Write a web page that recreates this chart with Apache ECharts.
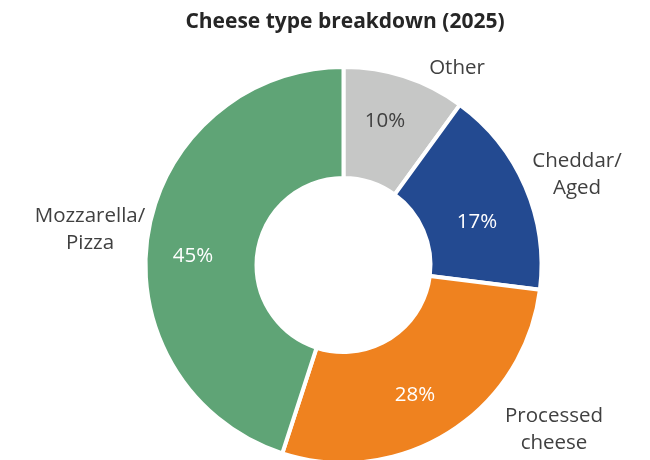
<!DOCTYPE html>
<html>
<head>
<meta charset="utf-8">
<script src="https://cdn.jsdelivr.net/npm/echarts@6/dist/echarts.min.js"></script>
<style>html,body{margin:0;padding:0;background:#fff}#c{width:650px;height:460px}</style>
</head>
<body>
<div id="c"></div>
<script>
const titleText = 'Cheese type breakdown (2025)';
const categories = ['Other', 'Cheddar/\nAged', 'Processed\ncheese', 'Mozzarella/\nPizza'];
const values = [10, 17, 28, 45];
const colors = ['#c6c7c6', '#234a91', '#ef821f', '#5fa476'];
const pctColors = ['#404040', '#ffffff', '#ffffff', '#ffffff'];

// label placement (layout only)
const outerLabelPos = [[457, 68], [577, 175], [554, 430], [90, 230]];
const innerLabelPos = [[385, 121], [477, 222], [415, 395], [193, 256]];

const FONT = '"Open Sans", "Noto Sans", sans-serif';
const chart = echarts.init(document.getElementById('c'), null, {renderer: 'canvas'});

const data = categories.map((c, i) => ({
  name: c, value: values[i],
  itemStyle: {color: colors[i]},
  label: {color: pctColors[i]}
}));
const dataOuter = categories.map((c, i) => ({name: c, value: values[i]}));

chart.setOption({
  animation: false,
  title: {
    text: titleText, left: 340, top: 7, textAlign: 'center',
    textStyle: {fontFamily: FONT, fontWeight: 'bold', fontSize: 21, color: '#262626'}
  },
  series: [
    {
      type: 'pie', center: [343.5, 265], radius: [87, 198],
      startAngle: 90, clockwise: true, avoidLabelOverlap: false,
      itemStyle: {borderColor: '#ffffff', borderWidth: 4},
      label: {show: true, position: 'inside', formatter: '{c}%', fontFamily: FONT, fontSize: 20.5},
      labelLayout: p => ({x: innerLabelPos[p.dataIndex][0], y: innerLabelPos[p.dataIndex][1], align: 'center', verticalAlign: 'middle'}),
      emphasis: {disabled: true},
      data: data
    },
    {
      type: 'pie', center: [343.5, 265], radius: [87, 198],
      startAngle: 90, clockwise: true, silent: true, avoidLabelOverlap: false,
      itemStyle: {color: 'rgba(0,0,0,0)'},
      label: {show: true, position: 'outside', formatter: '{b}', fontFamily: FONT, fontSize: 20.5,
              color: '#404040', lineHeight: 27, align: 'center'},
      labelLine: {show: false},
      labelLayout: p => ({x: outerLabelPos[p.dataIndex][0], y: outerLabelPos[p.dataIndex][1], align: 'center', verticalAlign: 'middle'}),
      emphasis: {disabled: true},
      data: dataOuter
    }
  ]
});
</script>
</body>
</html>
